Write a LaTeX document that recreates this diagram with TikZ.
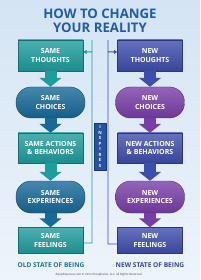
\documentclass[tikz,border=0pt]{standalone}
\usepackage{fontspec}
\setmainfont{Open Sans}
\usetikzlibrary{arrows.meta,positioning,calc}

\definecolor{bgtop}{RGB}{212,228,244}
\definecolor{bgbot}{RGB}{238,244,251}
\definecolor{titleblue}{RGB}{32,92,168}
\definecolor{oldbox}{RGB}{31,156,156}
\definecolor{oldpill}{RGB}{24,104,152}
\definecolor{newbox}{RGB}{62,78,172}
\definecolor{newpill}{RGB}{120,62,168}
\definecolor{oldtext}{RGB}{26,118,152}
\definecolor{newtext}{RGB}{52,70,160}
\definecolor{inspblue}{RGB}{38,82,162}

\tikzset{
  stepbox/.style={rectangle, minimum width=65pt, minimum height=30pt,
    top color=#1!80!white, bottom color=#1!90!black, draw=#1!70!black, line width=0.4pt,
    text=white, align=center, inner sep=0pt,
    font=\bfseries\fontsize{7}{8.4}\selectfont},
  steppill/.style={stepbox=#1, minimum width=69pt, minimum height=31pt, rounded corners=15pt},
  flowarrow/.style={draw=#1, line width=12pt, -{Triangle[length=9pt,width=22pt]}},
  loopline/.style={draw=#1, line width=0.9pt, -{Triangle[length=3.5pt,width=4pt]}},
  statelabel/.style={font=\bfseries\fontsize{6.6}{7}\selectfont, text=#1}
}

\begin{document}
\begin{tikzpicture}[x=1pt,y=-1pt]
  % background
  \shade[top color=bgtop, bottom color=bgbot] (0,0) rectangle (200,280);
  \useasboundingbox (0,0) rectangle (200,280);

  % title
  \node[text=titleblue, font=\bfseries\fontsize{13.2}{14}\selectfont] (title1) at (100,14) {HOW TO CHANGE};
  \node[text=titleblue, font=\bfseries\fontsize{13.2}{14}\selectfont] (title2) at (100,27.5) {YOUR REALITY};

  % old state of being
  \node[stepbox=oldbox, minimum height=31pt] (thoughtsL) at (50.5,55.5) {SAME\\THOUGHTS};
  \node[steppill=oldpill] (choicesL) at (50.5,102.5) {SAME\\CHOICES};
  \node[stepbox=oldbox] (actionsL) at (50.5,148) {SAME ACTIONS\\\& BEHAVIORS};
  \node[steppill=oldpill, minimum height=32pt] (experL) at (50.5,197) {SAME\\EXPERIENCES};
  \node[stepbox=oldbox, minimum height=26pt] (feelL) at (50.5,240.5) {SAME\\FEELINGS};

  % new state of being
  \node[stepbox=newbox, minimum height=31pt] (thoughtsR) at (150,55.5) {NEW\\THOUGHTS};
  \node[steppill=newpill] (choicesR) at (150,102.5) {NEW\\CHOICES};
  \node[stepbox=newbox] (actionsR) at (150,148) {NEW ACTIONS\\\& BEHAVIORS};
  \node[steppill=newpill, minimum height=32pt] (experR) at (150,197) {NEW\\EXPERIENCES};
  \node[stepbox=newbox, minimum height=26pt] (feelR) at (150,240.5) {NEW\\FEELINGS};

  % block arrows
  \draw[flowarrow=oldbox] (thoughtsL.south) -- (choicesL.north);
  \draw[flowarrow=oldpill] (choicesL.south) -- (actionsL.north);
  \draw[flowarrow=oldbox] (actionsL.south) -- (experL.north);
  \draw[flowarrow=oldpill] (experL.south) -- (feelL.north);
  \draw[flowarrow=newbox] (thoughtsR.south) -- (choicesR.north);
  \draw[flowarrow=newpill] (choicesR.south) -- (actionsR.north);
  \draw[flowarrow=newbox] (actionsR.south) -- (experR.north);
  \draw[flowarrow=newpill] (experR.south) -- (feelR.north);

  % feedback loops
  \coordinate (loopL) at (92,0);
  \coordinate (loopR) at (108,0);
  \draw[loopline=oldbox] ([yshift=-2.5pt]feelL.east) -| (loopL |- thoughtsL.north)
    -- ++(0,12) -- ([yshift=3.5pt]thoughtsL.east);
  \draw[loopline=newbox] ([yshift=-3.5pt]feelR.west) -| (loopR |- thoughtsR.north)
    -- ++(0,12) -- ([yshift=3.5pt]thoughtsR.west);

  % inspires
  \node[rectangle, fill=inspblue, draw=inspblue!70!black, line width=0.3pt,
    minimum width=12pt, minimum height=47pt, inner sep=0pt, text=white, align=center,
    font=\bfseries\fontsize{4.3}{5.5}\selectfont] (inspires) at (100,146.5)
    {I\\N\\S\\P\\I\\R\\E\\S};

  % labels
  \node[statelabel=oldtext] (oldlabel) at (51,265) {OLD STATE OF BEING};
  \node[statelabel=newtext] (newlabel) at (150,265) {NEW STATE OF BEING};
  \node[font=\fontsize{2.9}{3}\selectfont, text=black!75] (credit) at (99,274.5)
    {drjoedispenza.com \textcopyright{} 2012 Encephalon, LLC. All Rights Reserved.};
\end{tikzpicture}
\end{document}
